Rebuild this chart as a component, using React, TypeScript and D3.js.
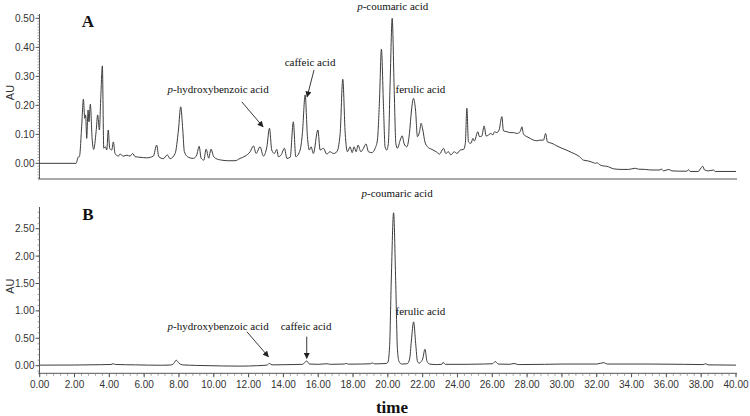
import React from 'react';
import * as d3 from 'd3';

// chromatogram A: [retention time (min), absorbance (AU)]
const traceA: [number, number][] = [
  [0, 0], [2.09, 0], [2.22, 0.022], [2.28, 0.023], [2.41, 0.126], [2.51, 0.221], [2.59, 0.155],
  [2.64, 0.167], [2.7, 0.086], [2.78, 0.184], [2.83, 0.143], [2.91, 0.204], [3.01, 0.086],
  [3.1, 0.048], [3.24, 0.109], [3.33, 0.167], [3.43, 0.115], [3.51, 0.23], [3.6, 0.336],
  [3.68, 0.052], [3.77, 0.057], [3.85, 0.046], [3.94, 0.115], [4.02, 0.052], [4.14, 0.046],
  [4.23, 0.074], [4.33, 0.034], [4.52, 0.025], [4.61, 0.032], [4.8, 0.025], [5.0, 0.028],
  [5.19, 0.025], [5.34, 0.034], [5.48, 0.023], [5.76, 0.021], [6.15, 0.019], [6.53, 0.025],
  [6.72, 0.063], [6.84, 0.023], [7.1, 0.016], [7.33, 0.029], [7.49, 0.016], [7.78, 0.034],
  [7.97, 0.115], [8.1, 0.195], [8.22, 0.115], [8.31, 0.04], [8.54, 0.021], [8.83, 0.017],
  [9.02, 0.029], [9.16, 0.059], [9.27, 0.018], [9.43, 0.011], [9.56, 0.049], [9.71, 0.018],
  [9.84, 0.049], [9.98, 0.025], [10.11, 0.017], [10.46, 0.011], [10.84, 0.009], [11.22, 0.009],
  [11.51, 0.017], [11.8, 0.025], [12.09, 0.04], [12.28, 0.06], [12.43, 0.034], [12.66, 0.057],
  [12.85, 0.025], [13.05, 0.057], [13.2, 0.121], [13.33, 0.046], [13.48, 0.034], [13.62, 0.048],
  [13.71, 0.023], [13.87, 0.029], [14.06, 0.052], [14.2, 0.017], [14.39, 0.021], [14.57, 0.143],
  [14.71, 0.023], [14.96, 0.046], [15.09, 0.103], [15.25, 0.236], [15.38, 0.092], [15.49, 0.046],
  [15.59, 0.057], [15.72, 0.034], [15.98, 0.115], [16.11, 0.046], [16.3, 0.052], [16.49, 0.032],
  [16.68, 0.04], [16.87, 0.034], [17.07, 0.04], [17.26, 0.103], [17.41, 0.29], [17.55, 0.103],
  [17.68, 0.04], [17.83, 0.057], [17.95, 0.037], [18.06, 0.057], [18.18, 0.04], [18.29, 0.063],
  [18.45, 0.04], [18.6, 0.052], [18.74, 0.067], [18.89, 0.04], [19.08, 0.037], [19.27, 0.052],
  [19.4, 0.08], [19.52, 0.218], [19.63, 0.394], [19.75, 0.195], [19.84, 0.057], [19.94, 0.046],
  [20.03, 0.069], [20.13, 0.276], [20.25, 0.5], [20.36, 0.264], [20.46, 0.069], [20.55, 0.052],
  [20.71, 0.08], [20.82, 0.095], [20.94, 0.067], [21.09, 0.057], [21.24, 0.103], [21.36, 0.184],
  [21.47, 0.224], [21.59, 0.184], [21.7, 0.092], [21.82, 0.109], [21.91, 0.138], [22.01, 0.115],
  [22.13, 0.074], [22.28, 0.057], [22.53, 0.048], [22.78, 0.04], [22.97, 0.032], [23.2, 0.052],
  [23.33, 0.034], [23.48, 0.04], [23.62, 0.029], [23.81, 0.04], [23.97, 0.034], [24.16, 0.046],
  [24.35, 0.048], [24.45, 0.069], [24.54, 0.19], [24.63, 0.074], [24.77, 0.069], [24.89, 0.086],
  [24.97, 0.077], [25.17, 0.109], [25.26, 0.092], [25.4, 0.094], [25.53, 0.129], [25.65, 0.094],
  [25.78, 0.098], [25.92, 0.103], [26.03, 0.098], [26.13, 0.109], [26.26, 0.106], [26.39, 0.115],
  [26.55, 0.161], [26.64, 0.112], [26.84, 0.109], [27.03, 0.106], [27.22, 0.106], [27.41, 0.103],
  [27.6, 0.109], [27.7, 0.126], [27.79, 0.101], [27.99, 0.092], [28.18, 0.086], [28.37, 0.08],
  [28.56, 0.078], [28.75, 0.08], [28.94, 0.08], [29.06, 0.103], [29.17, 0.074], [29.43, 0.069],
  [29.71, 0.06], [30.0, 0.052], [30.29, 0.045], [30.57, 0.037], [30.86, 0.029], [31.01, 0.023],
  [31.24, 0.011], [31.53, 0.008], [31.82, 0.002], [31.92, 0], [32.01, 0.002], [32.2, -0.006],
  [32.68, -0.012], [32.97, -0.019], [33.45, -0.021], [33.83, -0.021], [34.21, -0.017],
  [34.4, -0.02], [34.79, -0.021], [35.17, -0.023], [35.65, -0.023], [35.69, -0.019],
  [35.84, -0.026], [36.13, -0.021], [36.32, -0.026], [36.7, -0.027], [37.18, -0.027],
  [37.28, -0.022], [37.37, -0.028], [37.83, -0.028], [37.99, -0.016], [38.08, -0.01],
  [38.2, -0.023], [38.41, -0.026], [38.71, -0.023], [38.81, -0.028], [40, -0.028],
];

// chromatogram B
const traceB: [number, number][] = [
  [0, 0.01], [2.0, 0.012], [3.5, 0.018], [4.1, 0.022], [4.22, 0.035], [4.35, 0.022],
  [5.5, 0.015], [7.0, 0.008], [7.5, 0.012], [7.7, 0.04], [7.84, 0.1], [8.0, 0.045],
  [8.2, 0.015], [9.0, 0.005], [10.5, -0.005], [11.5, -0.008], [12.5, 0], [13.05, 0.01],
  [13.2, 0.04], [13.35, 0.015], [14.5, 0.02], [15.1, 0.025], [15.34, 0.085], [15.5, 0.03],
  [16.0, 0.025], [16.5, 0.035], [16.7, 0.025], [17.5, 0.03], [17.6, 0.04], [17.75, 0.028],
  [18.5, 0.03], [19.0, 0.035], [19.1, 0.05], [19.25, 0.032], [19.5, 0.035], [19.9, 0.04],
  [20.0, 0.06], [20.1, 0.35], [20.2, 1.6], [20.33, 2.79], [20.45, 1.55], [20.55, 0.3],
  [20.65, 0.07], [20.8, 0.03], [21.1, 0.035], [21.25, 0.12], [21.35, 0.45], [21.48, 0.8],
  [21.6, 0.4], [21.7, 0.08], [21.8, 0.045], [21.9, 0.07], [22.0, 0.12], [22.13, 0.3],
  [22.25, 0.08], [22.4, 0.03], [22.8, 0.02], [23.1, 0.025], [23.17, 0.06], [23.3, 0.025],
  [24.5, 0.025], [25.5, 0.03], [26.0, 0.035], [26.17, 0.075], [26.35, 0.03], [27.0, 0.025],
  [27.25, 0.04], [27.5, 0.02], [29.0, 0.025], [30.0, 0.03], [32.0, 0.03], [32.4, 0.055],
  [32.6, 0.03], [35.0, 0.03], [37.0, 0.025], [38.1, 0.02], [38.25, 0.035], [38.4, 0.015],
  [40, 0.01],
];

const xTicks = [0, 2, 4, 6, 8, 10, 12, 14, 16, 18, 20, 22, 24, 26, 28, 30, 32, 34, 36, 38, 40];
const yTicksA = [0, 0.1, 0.2, 0.3, 0.4, 0.5];
const yTicksB = [0, 0.5, 1.0, 1.5, 2.0, 2.5];

// compound labels: name, label anchor (time, AU), optional arrow from -> to
const labelsA = [
  { p: true, name: '-hydroxybenzoic acid', t: 10.25, v: 0.242, arrow: [11.61, 0.212, 12.83, 0.126] },
  { p: false, name: 'caffeic acid', t: 15.53, v: 0.336, arrow: [15.76, 0.322, 15.36, 0.229] },
  { p: true, name: '-coumaric acid', t: 20.28, v: 0.529, arrow: null },
  { p: false, name: 'ferulic acid', t: 21.87, v: 0.242, arrow: null },
];
const labelsB = [
  { p: true, name: '-hydroxybenzoic acid', t: 10.25, v: 0.651, arrow: [11.9, 0.62, 13.14, 0.164] },
  { p: false, name: 'caffeic acid', t: 15.3, v: 0.651, arrow: [15.34, 0.53, 15.34, 0.135] },
  { p: true, name: '-coumaric acid', t: 20.53, v: 3.07, arrow: null },
  { p: false, name: 'ferulic acid', t: 21.87, v: 0.934, arrow: null },
];

const x = d3.scaleLinear().domain([0, 40]).range([39.7, 736]);
const yA = d3.scaleLinear().domain([-0.054, 0.515]).range([179, 14]);
const yB = d3.scaleLinear().domain([-0.139, 2.896]).range([373.3, 207]);

const SANS = '"Liberation Sans", Arial, sans-serif';
const SERIF = '"Liberation Serif", "Times New Roman", serif';
const INK = '#333';

function Panel({ trace, y, yTicks, minorStep, labels, letter, showX }: any) {
  const line = d3.line<[number, number]>()
    .x(d => x(d[0]))
    .y(d => y(d[1]))
    .curve(d3.curveMonotoneX);
  const [y0, y1] = y.domain();
  const axX = 39.5;
  const bottom = y.range()[0];
  const minors = d3.range(Math.ceil(y0 / minorStep) * minorStep, y1, minorStep);
  const xMinors = d3.range(0, 40.001, 0.4);
  return (
    <g>
      {/* y axis */}
      <line x1={axX} x2={axX} y1={y.range()[1]} y2={bottom} stroke="#555" />
      {minors.map((m: number, i: number) => (
        <line key={'m' + i} x1={axX - 2} x2={axX} y1={y(m)} y2={y(m)} stroke="#777" strokeWidth={0.7} />
      ))}
      {yTicks.map((t: number) => (
        <g key={t}>
          <line x1={axX - 4} x2={axX} y1={y(t)} y2={y(t)} stroke="#555" />
          <text x={axX - 5} y={y(t)} dy="0.35em" textAnchor="end" fontFamily={SANS} fontSize={10} fill={INK}>
            {t.toFixed(2)}
          </text>
        </g>
      ))}
      {/* x axis */}
      <line x1={x(0) - 1.5} x2={x(40) + 1} y1={bottom} y2={bottom} stroke="#555" />
      {showX && xMinors.map((m: number, i: number) => (
        <line key={'xm' + i} x1={x(m)} x2={x(m)} y1={bottom} y2={bottom + 2.5} stroke="#777" strokeWidth={0.7} />
      ))}
      {showX && xTicks.map(t => (
        <g key={'x' + t}>
          <line x1={x(t)} x2={x(t)} y1={bottom} y2={bottom + 4} stroke="#555" />
          <text x={x(t)} y={bottom + 15} textAnchor="middle" fontFamily={SANS} fontSize={10} fill={INK}>
            {t.toFixed(2)}
          </text>
        </g>
      ))}
      <text transform={`translate(14,${(y.range()[1] + bottom) / 2 - 4}) rotate(-90)`} textAnchor="middle"
        fontFamily={SANS} fontSize={11} fill={INK}>AU</text>
      <text x={88} y={y.range()[1] + 13} textAnchor="middle" fontFamily={SERIF} fontWeight="bold" fontSize={17} fill="#111">
        {letter}
      </text>
      <path d={line(trace) || ''} fill="none" stroke="#3c3c3c" strokeWidth={1} strokeLinejoin="round" />
      {labels.map((l: any, i: number) => (
        <g key={'l' + i}>
          <text x={x(l.t)} y={y(l.v)} textAnchor="middle" fontFamily={SERIF} fontSize={11} fill="#111">
            {l.p && <tspan fontStyle="italic">p</tspan>}{l.name}
          </text>
          {l.arrow && (
            <line x1={x(l.arrow[0])} y1={y(l.arrow[1])} x2={x(l.arrow[2])} y2={y(l.arrow[3])}
              stroke="#222" strokeWidth={0.9} markerEnd="url(#head)" />
          )}
        </g>
      ))}
    </g>
  );
}

export default function App() {
  return (
    <svg width={750} height={416} style={{ position: 'absolute', left: 0, top: 0, background: '#fff' }}>
      <defs>
        <marker id="head" viewBox="0 0 10 10" refX="9" refY="5" markerWidth="7" markerHeight="6"
          markerUnits="userSpaceOnUse" orient="auto">
          <path d="M0,0 L10,5 L0,10 z" fill="#222" />
        </marker>
      </defs>
      <rect width={750} height={416} fill="#fff" />
      <Panel trace={traceA} y={yA} yTicks={yTicksA} minorStep={0.01} labels={labelsA} letter="A" showX={false} />
      <Panel trace={traceB} y={yB} yTicks={yTicksB} minorStep={0.1} labels={labelsB} letter="B" showX={true} />
      <text x={392} y={413} textAnchor="middle" fontFamily={SERIF} fontWeight="bold" fontSize={17} fill="#111">time</text>
    </svg>
  );
}
